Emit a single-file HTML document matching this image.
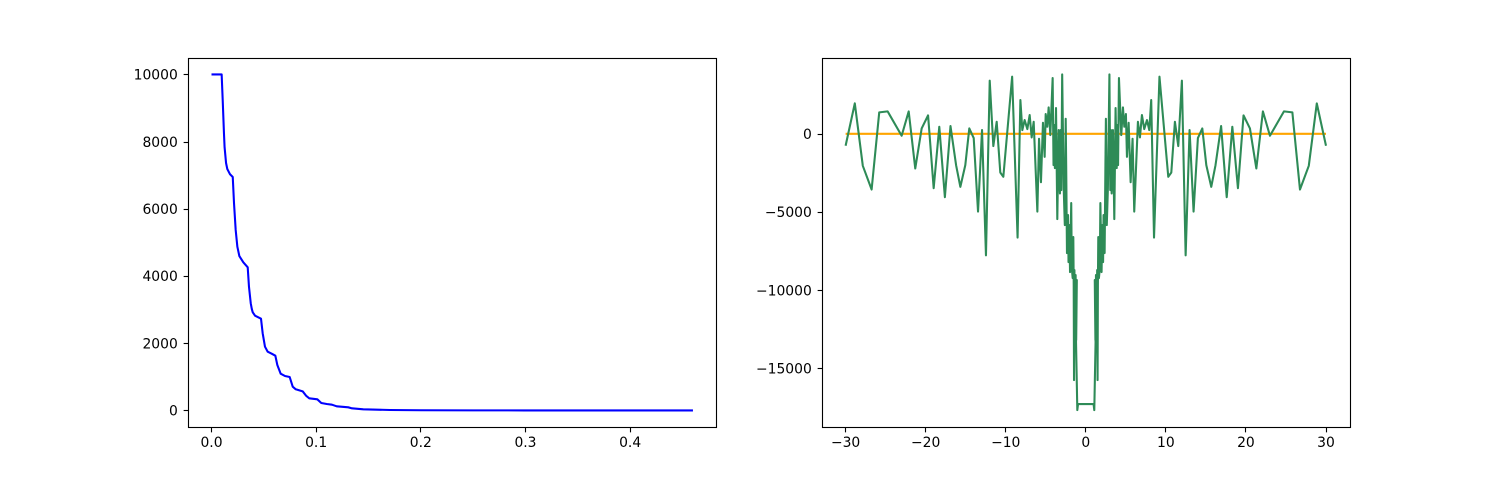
<!DOCTYPE html>
<html>
<head>
<meta charset="utf-8">
<title>Two line charts</title>
<style>
html,body{margin:0;padding:0;background:#fff;width:1500px;height:480px;overflow:hidden}
svg{display:block}
text{font-family:"DejaVu Sans","Liberation Sans",sans-serif;font-size:13.89px;fill:#000}
</style>
</head>
<body>
<svg id="figure" xmlns="http://www.w3.org/2000/svg" width="1500" height="480" viewBox="0 0 1500 480"></svg>
<script>
// Left chart data
const decayX = [0,0.0097,0.0107,0.0119,0.0125,0.0139,0.0151,0.0177,0.0203,0.0215,0.0231,0.0247,0.0266,0.0304,0.0346,0.0358,0.0375,0.0385,0.0394,0.0416,0.0473,0.0489,0.0511,0.0537,0.0575,0.061,0.0629,0.0661,0.0702,0.0747,0.0776,0.0805,0.0871,0.0906,0.0934,0.1011,0.1049,0.1101,0.1151,0.1196,0.1307,0.1342,0.145,0.1705,0.2,0.25,0.3,0.4,0.46];
const decayY = [10000,10000,9238,8256,7836,7363,7185,7027,6946,6173,5369,4872,4595,4408,4259,3682,3188,3020,2920,2818,2729,2295,1896,1747,1688,1628,1351,1092,1024,994,705,628,568,429,360,330,220,190,170,122,92,62,33,12,5,1,0,0,0];
const leftXTicks = [0,0.1,0.2,0.3,0.4];
const leftXTickLabels = ["0.0","0.1","0.2","0.3","0.4"];
const leftYTicks = [0,2000,4000,6000,8000,10000];
const leftYTickLabels = ["0","2000","4000","6000","8000","10000"];

// Right chart data
const baselineX = [-30,30];
const baselineY = [0,0];
const spectrumX = [-30,-28.85,-27.85,-26.75,-25.8,-24.75,-23,-22.12,-21.3,-20.5,-19.7,-19,-18.3,-17.6,-16.9,-16.2,-15.67,-15.05,-14.55,-14,-13.46,-12.96,-12.47,-12,-11.55,-11.13,-10.68,-10.3,-9.2,-8.52,-8.17,-7.93,-7.64,-7.3,-7.01,-6.76,-6.51,-6.05,-5.84,-5.6,-5.35,-5.14,-5.01,-4.81,-4.64,-4.43,-4.14,-4.03,-3.93,-3.86,-3.72,-3.56,-3.39,-3.31,-3.23,-3.14,-3.06,-2.95,-2.76,-2.62,-2.51,-2.45,-2.35,-2.22,-2.16,-2.06,-1.97,-1.82,-1.75,-1.64,-1.56,-1.51,-1.47,-1.42,-1.32,-1.27,-1.2,-1.12,-1.22,-1.06,-0.97,
0.97,1.06,1.22,1.12,1.2,1.27,1.32,1.42,1.47,1.51,1.56,1.64,1.75,1.82,1.97,2.06,2.16,2.22,2.35,2.45,2.51,2.62,2.76,2.95,3.06,3.14,3.23,3.31,3.39,3.56,3.72,3.86,3.93,4.03,4.14,4.43,4.64,4.81,5.01,5.14,5.35,5.6,5.84,6.05,6.51,6.76,7.01,7.3,7.64,7.93,8.17,8.52,9.2,10.3,10.68,11.13,11.55,12,12.47,12.96,13.46,14,14.55,15.05,15.67,16.2,16.9,17.6,18.3,19,19.7,20.5,21.3,22.12,23,24.75,25.8,26.75,27.85,28.85,30];
const spectrumY = [-767,1947,-2049,-3566,1370,1434,-126,1434,-2220,344,1177,-3481,451,-4058,494,-2006,-3395,-2006,344,-276,-4976,237,-7776,3400,-788,771,-2476,-2754,3656,-6643,2160,237,878,301,1199,-233,771,-4976,-318,-3096,707,-1472,1263,451,1690,-83,3564,-2003,557,-2195,1645,-5458,237,-2643,-3822,237,-3602,3800,-3475,-5842,960,-2003,-7634,-5202,-8210,-5842,-8849,-4434,-8593,-9234,-6610,-9681,-15760,-8721,-13521,-9040,-13200,-9358,-13329,-17680,-17296,
-17296,-17680,-13329,-9358,-13200,-9040,-13521,-8721,-15760,-9681,-6610,-9234,-8593,-4434,-8849,-5842,-8210,-5202,-7634,-2003,960,-5842,-3475,3800,-3602,237,-3822,-2643,237,-5458,1645,-2195,557,-2003,3564,-83,1690,451,1263,-1472,707,-3096,-318,-4976,771,-233,1199,301,878,237,2160,-6643,3656,-2754,-2476,771,-788,3400,-7776,237,-4976,-276,344,-2006,-3395,-2006,494,-4058,451,-3481,1177,344,-2220,1434,-126,1434,1370,-3566,-2049,1947,-767];
const rightXTicks = [-30,-20,-10,0,10,20,30];
const rightXTickLabels = ["\u221230","\u221220","\u221210","0","10","20","30"];
const rightYTicks = [0,-5000,-10000,-15000];
const rightYTickLabels = ["0","\u22125000","\u221210000","\u221215000"];

const NS = "http://www.w3.org/2000/svg";
const figure = document.getElementById("figure");

function make(tag, attrs, parent) {
  const el = document.createElementNS(NS, tag);
  for (const k in attrs) el.setAttribute(k, attrs[k]);
  parent.appendChild(el);
  return el;
}

function linearScale(d0, d1, r0, r1) {
  return v => r0 + (v - d0) * (r1 - r0) / (d1 - d0);
}

function pointsString(xs, ys, sx, sy) {
  return xs.map((x, i) => sx(x).toFixed(2) + "," + sy(ys[i]).toFixed(2)).join(" ");
}

function drawAxes(group, left, right, top, bottom, sx, sy, xTicks, xLabels, yTicks, yLabels) {
  const tickLen = 4.86;
  xTicks.forEach((t, i) => {
    const px = Math.floor(sx(t)) + 0.5;
    const tick = make("line", {x1: px, x2: px, y1: bottom, y2: bottom + tickLen, stroke: "#000", "stroke-width": 1.11}, group);
    
    
    const label = make("text", {x: sx(t), y: 447, "text-anchor": "middle"}, group);
    label.textContent = xLabels[i];
    
    
  });
  yTicks.forEach((t, i) => {
    const py = Math.round(sy(t)) + 0.5;
    const tick = make("line", {x1: left - tickLen, x2: left, y1: py, y2: py, stroke: "#000", "stroke-width": 1.11}, group);
    
    
    const label = make("text", {x: left - 10.7, y: sy(t) + 5.2, "text-anchor": "end"}, group);
    label.textContent = yLabels[i];
    
    
  });
  const frame = make("rect", {x: left, y: top, width: right - left, height: bottom - top, fill: "none", stroke: "#000", "stroke-width": 1.11}, group);
  
  
}

// Left panel
const leftPanel = make("g", {}, figure);


const lsx = linearScale(0, 0.459, 211.5, 691.9);
const lsy = linearScale(0, 10000, 410.4, 74.4);
const decayLine = make("polyline", {points: pointsString(decayX, decayY, lsx, lsy), fill: "none", stroke: "#0000ff", "stroke-width": 2.08, "stroke-linejoin": "round"}, leftPanel);


drawAxes(leftPanel, 188.5, 716.5, 58.5, 427.5, lsx, lsy, leftXTicks, leftXTickLabels, leftYTicks, leftYTickLabels);

// Right panel
const rightPanel = make("g", {}, figure);


const rsx = linearScale(-30, 30, 845.6, 1326);
const rsy = linearScale(-17700, 3800, 410.4, 74.4);
const baselineLine = make("polyline", {points: pointsString(baselineX, baselineY, rsx, rsy), fill: "none", stroke: "#ffa500", "stroke-width": 2.08}, rightPanel);


const spectrumLine = make("polyline", {points: pointsString(spectrumX, spectrumY, rsx, rsy), fill: "none", stroke: "#2e8b57", "stroke-width": 2.08, "stroke-linejoin": "round"}, rightPanel);


drawAxes(rightPanel, 822.5, 1350.5, 58.5, 427.5, rsx, rsy, rightXTicks, rightXTickLabels, rightYTicks, rightYTickLabels);
</script>
</body>
</html>
